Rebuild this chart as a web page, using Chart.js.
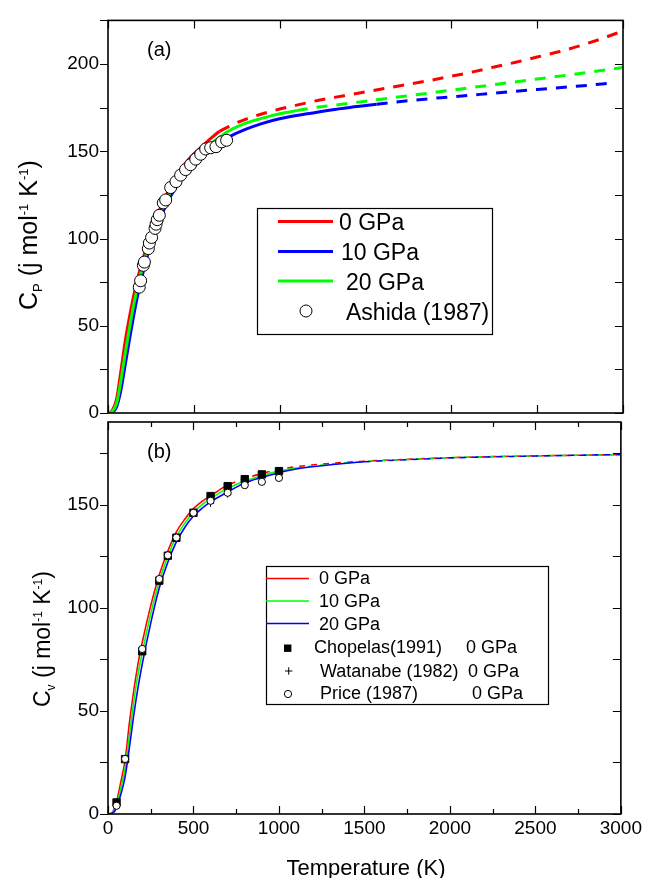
<!DOCTYPE html>
<html>
<head>
<meta charset="utf-8">
<script src="https://cdn.jsdelivr.net/npm/chart.js@4.4.1/dist/chart.umd.min.js"></script>
<style>
  body { margin: 0; background: #fff; }
  #wrap { position: relative; width: 645px; height: 878px; }
  canvas { position: absolute; left: 0; top: 0; }
</style>
</head>
<body>
<div id="wrap">
  <canvas id="cp" width="645" height="878"></canvas>
  <canvas id="cv" width="645" height="878"></canvas>
</div>
<script>
// ---- panel (a): Cp ----
const tRedCp = [0,25,50,75,100,125,150,175,200,250,300,350,400,450,500,550,600,650,700,750,800,900,1000,1125,1250,1375,1500,1625,1750,1875,2000,2125,2250,2375,2500,2625,2750,2875,3000];
const cpRed = [0,1.5,8,24,41,55,67.5,78,87,103,116.5,127,136,143,148.5,153,157.5,161.4,164,166.3,168.3,171.5,174.2,177,179.7,181.8,184,186.2,188.4,190.6,193,195.5,198.3,201,204,207,210.5,214.5,219];

const tBlueCp = [0,25,50,75,100,125,150,175,200,250,300,350,400,450,500,550,600,650,700,800,900,1000,1150,1300,1450,1565,1750,2000,2250,2500,2750,2940];
const cpBlue = [0,0.5,3.5,13,27.5,42,56,68.5,79,97,110.5,121.5,130,137,142.5,147.5,151.5,155,158,162.5,166,168.6,171.3,173.7,175.6,177,179,181.2,183.3,185.4,187.4,189.1];

const tGreenCp = [0,25,50,75,100,125,150,175,200,250,300,350,400,450,500,550,600,650,700,800,900,1000,1100,1200,1350,1500,1750,2000,2250,2500,2750,3000];
const cpGreen = [0,1,5.5,18.5,34,48.5,62,73.5,83,100,113.5,124.2,133,140,145.5,150.3,154.5,158,161.5,166,169,171.5,173.3,175,176.8,178.7,181.8,185,188.2,191.4,194.6,198];

const tAshida = [182,190,206,212,235,241,254,274,280,287,299,322,336,365,396,423,452,481,511,540,569,598,629,662,691];
const cpAshida = [72.1,75.8,84.6,86.5,94.2,97.4,100.6,105.8,108.2,110.8,113.3,120.4,122.1,129.2,132.6,136.3,139.5,142.3,145.5,148.3,151.3,152,152.6,155.4,156.3];

// where the calculated curves switch from solid to dashed
const cutCp = { red: 650, blue: 1565, green: 1100 };

// ---- panel (b): Cv ----
const tCv = [0,25,50,75,100,125,150,175,200,250,300,350,400,450,500,550,600,650,700,800,900,1000,1100,1250,1500,1750,2000,2250,2500,2750,3000];
const cvRed = [0,0.8,6,15.5,26,44,59.5,72.5,83,101,116,127.5,136.8,143,148,151.5,154.2,157,159.4,162.6,165,167,168.3,169.6,171,171.9,172.7,173.2,173.6,173.9,174.2];
const cvGreen = [0,0.5,4.5,12.5,22,38,54,67.5,78,97,112.8,125,134.4,141,146.3,150,152.7,155.5,157.8,161.4,164,166.2,167.7,169.1,170.8,171.8,172.7,173.2,173.6,173.9,174.2];
const cvBlue = [0,0.3,3,9.5,18,32,47.5,61,72.5,92.5,109.5,122,131.9,139,144.4,148.2,151.3,153.8,156.1,160.5,163.1,165.4,167.2,168.8,170.7,171.7,172.6,173.1,173.5,173.9,174.2];
const cutCv = { red: 650, green: 1100, blue: 1500 };

const tExp = [50,100,200,300,350,400,500,600,700,800,900,1000];
const cvChopelas = [5.6,26.6,78.9,113.1,125.2,133.9,146,154.1,158.9,162.3,164.6,166.2];
const cvPrice = [4.0,26.7,80.0,113.9,125.4,134,146,151.8,155.7,159.4,161,162.9];
const tWatanabe = [600,700];
const cvWatanabe = [150.6,155.1];

const FONT = '"Liberation Sans", Arial, sans-serif';
Chart.defaults.font.family = FONT;
Chart.defaults.color = '#000';

function pts(xs, ys) {
  return xs.map((x, i) => ({ x: x, y: ys[i] }));
}

function curve(label, xs, ys, color, width, cut, dash, order) {
  return {
    label: label,
    data: pts(xs, ys),
    showLine: true,
    borderColor: color,
    backgroundColor: color,
    borderWidth: width,
    pointRadius: 0,
    cubicInterpolationMode: 'monotone',
    order: order,
    segment: { borderDash: c => c.p0.parsed.x >= cut ? dash : undefined }
  };
}

function marks(label, xs, ys, style, radius, fill, order) {
  return {
    label: label,
    data: pts(xs, ys),
    showLine: false,
    pointStyle: style,
    pointRadius: radius,
    pointBorderWidth: 1,
    pointBorderColor: '#000',
    pointBackgroundColor: fill,
    order: order
  };
}

// box + tick marks
function axesPlugin(xStep) {
  return {
    id: 'axesBox',
    afterDatasetsDraw(chart) {
      const ctx = chart.ctx, a = chart.chartArea;
      const x = chart.scales.x, y = chart.scales.y;
      ctx.save();
      ctx.strokeStyle = '#000';
      ctx.lineWidth = 1.2;
      ctx.beginPath();
      y.ticks.forEach(t => {
        const py = Math.round(y.getPixelForValue(t.value)) + 0.5;
        ctx.moveTo(a.left - 8, py); ctx.lineTo(a.left, py);
        ctx.moveTo(a.right - 8, py); ctx.lineTo(a.right, py);
      });
      for (let v = x.min; v <= x.max; v += xStep) {
        const px = Math.round(x.getPixelForValue(v)) + 0.5;
        const len = v % 500 === 0 ? 8 : 5;
        ctx.moveTo(px, a.top); ctx.lineTo(px, a.top + len);
        ctx.moveTo(px, a.bottom); ctx.lineTo(px, a.bottom - len);
      }
      ctx.stroke();
      ctx.lineWidth = 1.6;
      ctx.strokeRect(a.left, a.top, a.right - a.left, a.bottom - a.top);
      ctx.restore();
    }
  };
}

function drawRuns(ctx, runs, size, x, y) {
  ctx.save();
  ctx.translate(x, y);
  ctx.rotate(-Math.PI / 2);
  ctx.textAlign = 'left';
  ctx.textBaseline = 'alphabetic';
  ctx.fillStyle = '#000';
  let cx = 0;
  runs.forEach(r => {
    const s = (r.sub || r.sup) ? size * 0.52 : size;
    ctx.font = s + 'px ' + FONT;
    const dy = r.sub ? size * 0.2 : r.sup ? -size * 0.36 : 0;
    ctx.fillText(r.t, cx, dy);
    cx += ctx.measureText(r.t).width;
  });
  ctx.restore();
}

function text(ctx, s, x, y, size, align) {
  ctx.font = size + 'px ' + FONT;
  ctx.textAlign = align || 'left';
  ctx.textBaseline = 'alphabetic';
  ctx.fillStyle = '#000';
  ctx.fillText(s, x, y);
}

function lineSample(ctx, ds, x0, x1, y) {
  ctx.strokeStyle = ds.borderColor;
  ctx.lineWidth = ds.borderWidth;
  ctx.beginPath(); ctx.moveTo(x0, y); ctx.lineTo(x1, y); ctx.stroke();
}

const cpSets = [
  marks('Ashida (1987)', tAshida, cpAshida, 'circle', 6, '#fff', 0),
  curve('0 GPa', tRedCp, cpRed, '#ff0000', 3, cutCp.red, [11, 9], 4),
  curve('10 GPa', tBlueCp, cpBlue, '#0000ff', 3, cutCp.blue, [11, 9], 3),
  curve('20 GPa', tGreenCp, cpGreen, '#00ff00', 3, cutCp.green, [11, 9], 2)
];

const cpText = {
  id: 'cpText',
  afterDraw(chart) {
    const ctx = chart.ctx, d = chart.data.datasets;
    ctx.save();
    text(ctx, '(a)', 147, 56, 20);
    drawRuns(ctx, [{ t: 'C' }, { t: 'P', sub: true }, { t: ' (j mol' }, { t: '-1', sup: true },
      { t: ' K' }, { t: '-1', sup: true }, { t: ')' }], 25, 37, 310);
    // legend
    ctx.strokeStyle = '#000'; ctx.lineWidth = 1.2;
    ctx.strokeRect(257.5, 208.5, 235, 126);
    lineSample(ctx, d[1], 278, 333, 221.5);
    lineSample(ctx, d[2], 278, 333, 251.5);
    lineSample(ctx, d[3], 278, 333, 281);
    ctx.fillStyle = '#fff'; ctx.strokeStyle = '#000'; ctx.lineWidth = 1;
    ctx.beginPath(); ctx.arc(306, 311, 6, 0, Math.PI * 2); ctx.fill(); ctx.stroke();
    text(ctx, d[1].label, 339, 230, 23);
    text(ctx, d[2].label, 341, 260, 23);
    text(ctx, d[3].label, 346, 289.5, 23);
    text(ctx, d[0].label, 346, 319.5, 23);
    ctx.restore();
  }
};

new Chart(document.getElementById('cp'), {
  type: 'scatter',
  data: { datasets: cpSets },
  options: {
    responsive: false,
    animation: false,
    layout: { padding: { left: 0, right: 22, top: 14, bottom: 465 } },
    plugins: { legend: { display: false }, tooltip: { enabled: false } },
    scales: {
      x: { type: 'linear', min: 0, max: 3000, display: false },
      y: {
        type: 'linear', min: 0, max: 225,
        afterFit: s => { s.width = 108; },
        grid: { display: false, drawTicks: false },
        border: { display: false },
        ticks: { stepSize: 25, includeBounds: false, padding: 9, font: { size: 19 }, color: '#000',
          callback: v => v % 50 === 0 ? String(v) : '' }
      }
    }
  },
  plugins: [axesPlugin(500), cpText]
});

const cvSets = [
  marks('Price (1987)', tExp, cvPrice, 'circle', 3.6, '#fff', 0),
  marks('Watanabe (1982)', tWatanabe, cvWatanabe, 'cross', 3.6, '#000', 1),
  marks('Chopelas(1991)', tExp, cvChopelas, 'rect', 5.2, '#000', 2),
  curve('0 GPa', tCv, cvRed, '#ff0000', 1.6, cutCv.red, [6, 6], 5),
  curve('10 GPa', tCv, cvGreen, '#00ff00', 1.6, cutCv.green, [6, 6], 4),
  curve('20 GPa', tCv, cvBlue, '#0000ff', 1.6, cutCv.blue, [6, 6], 3)
];

const cvText = {
  id: 'cvText',
  afterDraw(chart) {
    const ctx = chart.ctx, d = chart.data.datasets;
    ctx.save();
    text(ctx, '(b)', 147, 458, 20);
    drawRuns(ctx, [{ t: 'C' }, { t: 'v', sub: true }, { t: ' (j mol' }, { t: '-1', sup: true },
      { t: ' K' }, { t: '-1', sup: true }, { t: ')' }], 23, 50, 707);
    text(ctx, 'Temperature (K)', 366, 875, 22, 'center');
    // legend
    ctx.strokeStyle = '#000'; ctx.lineWidth = 1.2;
    ctx.strokeRect(266.5, 566.5, 282, 138);
    lineSample(ctx, d[3], 266, 309, 578.5);
    lineSample(ctx, d[4], 266, 309, 601);
    lineSample(ctx, d[5], 266, 309, 623.5);
    ctx.fillStyle = '#000';
    ctx.fillRect(284, 644.5, 7.4, 7.4);
    ctx.strokeStyle = '#000';
    ctx.lineWidth = 1;
    ctx.beginPath();
    ctx.moveTo(285, 671); ctx.lineTo(292.4, 671);
    ctx.moveTo(288.7, 667.3); ctx.lineTo(288.7, 674.7);
    ctx.stroke();
    ctx.fillStyle = '#fff';
    ctx.beginPath(); ctx.arc(288, 694, 3.6, 0, Math.PI * 2); ctx.fill(); ctx.stroke();
    text(ctx, d[3].label, 319, 584, 18);
    text(ctx, d[4].label, 319, 607, 18);
    text(ctx, d[5].label, 319, 630, 18);
    text(ctx, d[2].label, 314, 653, 18);
    text(ctx, d[1].label, 320, 676.5, 18);
    text(ctx, d[0].label, 320, 699, 18);
    text(ctx, '0 GPa', 466, 653, 18);
    text(ctx, '0 GPa', 468, 676.5, 18);
    text(ctx, '0 GPa', 472, 699, 18);
    ctx.restore();
  }
};

new Chart(document.getElementById('cv'), {
  type: 'scatter',
  data: { datasets: cvSets },
  options: {
    responsive: false,
    animation: false,
    layout: { padding: { left: 0, right: 22, top: 422, bottom: 0 } },
    plugins: { legend: { display: false }, tooltip: { enabled: false } },
    scales: {
      x: {
        type: 'linear', min: 0, max: 3000,
        afterFit: s => { s.height = 64; },
        grid: { display: false, drawTicks: false },
        border: { display: false },
        ticks: { stepSize: 500, padding: 3, font: { size: 19 }, color: '#000', maxRotation: 0, autoSkip: false,
          callback: v => String(v) }
      },
      y: {
        type: 'linear', min: 0, max: 190,
        afterFit: s => { s.width = 108; },
        grid: { display: false, drawTicks: false },
        border: { display: false },
        ticks: { stepSize: 25, includeBounds: false, padding: 9, font: { size: 19 }, color: '#000',
          callback: v => v % 50 === 0 ? String(v) : '' }
      }
    }
  },
  plugins: [axesPlugin(250), cvText]
});
</script>
</body>
</html>
